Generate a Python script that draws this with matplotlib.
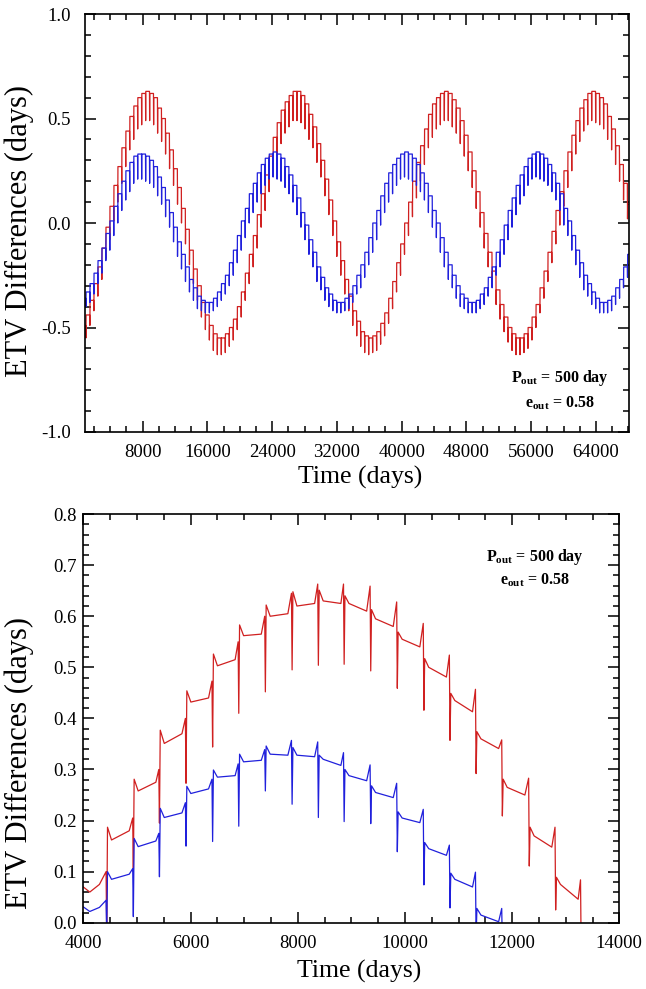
import numpy as np
import matplotlib
matplotlib.use("Agg")
import matplotlib.pyplot as plt
from matplotlib.ticker import MultipleLocator, FormatStrFormatter

plt.rcParams['font.family'] = ['Liberation Serif', 'DejaVu Serif']
plt.rcParams['mathtext.fontset'] = 'custom'
plt.rcParams['mathtext.rm'] = 'Liberation Serif'
plt.rcParams['mathtext.bf'] = 'Liberation Serif:bold'
plt.rcParams['axes.unicode_minus'] = False

RED = '#d02020'
BLUE = '#2020dc'

# ---------------- top panel: one value per outer orbit (every 492 d) ----------------
top_t = np.arange(500, 68000, 492)  # spike epochs

red_level = [-0.49, -0.44, -0.37, -0.29, -0.21, -0.12, -0.02, 0.08, 0.18, 0.27,
             0.36, 0.44, 0.51, 0.56, 0.60, 0.62, 0.63, 0.62, 0.60, 0.55,
             0.50, 0.43, 0.35, 0.26, 0.17, 0.07, -0.03, -0.13, -0.22, -0.30,
             -0.38, -0.44, -0.49, -0.53, -0.55, -0.55, -0.53, -0.50, -0.46, -0.40,
             -0.33, -0.24, -0.15, -0.06, 0.04, 0.14, 0.23, 0.32, 0.41, 0.48,
             0.54, 0.58, 0.61, 0.63, 0.63, 0.61, 0.57, 0.52, 0.46, 0.38,
             0.30, 0.21, 0.11, 0.01, -0.09, -0.18, -0.27, -0.35, -0.42, -0.47,
             -0.52, -0.54, -0.55, -0.54, -0.52, -0.48, -0.43, -0.36, -0.28, -0.19,
             -0.10, 0.00, 0.10, 0.20, 0.29, 0.37, 0.45, 0.52, 0.57, 0.60,
             0.62, 0.63, 0.62, 0.59, 0.55, 0.49, 0.42, 0.34, 0.25, 0.15,
             0.05, -0.05, -0.14, -0.23, -0.32, -0.39, -0.45, -0.50, -0.53, -0.55,
             -0.55, -0.53, -0.50, -0.45, -0.39, -0.31, -0.23, -0.14, -0.04, 0.06,
             0.15, 0.25, 0.34, 0.42, 0.49, 0.55, 0.59, 0.62, 0.63, 0.62,
             0.60, 0.57, 0.51, 0.45, 0.37, 0.28, 0.19, 0.09]
red_dip = [-0.59, -0.55, -0.49, -0.42, -0.35, -0.27, -0.17, -0.08, 0.01, 0.10,
           0.19, 0.27, 0.35, 0.40, 0.45, 0.47, 0.49, 0.49, 0.47, 0.43,
           0.39, 0.33, 0.26, 0.18, 0.09, 0.00, -0.10, -0.20, -0.29, -0.37,
           -0.45, -0.51, -0.56, -0.61, -0.63, -0.63, -0.62, -0.59, -0.56, -0.51,
           -0.45, -0.37, -0.29, -0.21, -0.12, -0.02, 0.06, 0.15, 0.24, 0.32,
           0.38, 0.43, 0.46, 0.49, 0.49, 0.48, 0.45, 0.40, 0.36, 0.29,
           0.22, 0.13, 0.04, -0.06, -0.16, -0.25, -0.34, -0.42, -0.49, -0.54,
           -0.59, -0.62, -0.63, -0.62, -0.61, -0.58, -0.54, -0.48, -0.41, -0.33,
           -0.25, -0.15, -0.06, 0.03, 0.12, 0.20, 0.28, 0.36, 0.41, 0.45,
           0.47, 0.49, 0.49, 0.46, 0.43, 0.38, 0.32, 0.25, 0.17, 0.07,
           -0.02, -0.12, -0.21, -0.30, -0.39, -0.46, -0.52, -0.57, -0.61, -0.63,
           -0.63, -0.62, -0.60, -0.56, -0.50, -0.43, -0.36, -0.28, -0.19, -0.10,
           -0.01, 0.08, 0.17, 0.25, 0.33, 0.39, 0.44, 0.47, 0.49, 0.48,
           0.47, 0.45, 0.40, 0.35, 0.28, 0.20, 0.11, 0.02]

blue_level = [-0.36, -0.33, -0.29, -0.24, -0.18, -0.12, -0.05, 0.01, 0.08, 0.14,
              0.20, 0.25, 0.29, 0.32, 0.33, 0.33, 0.32, 0.30, 0.27, 0.22,
              0.17, 0.11, 0.05, -0.02, -0.09, -0.15, -0.21, -0.27, -0.31, -0.35,
              -0.37, -0.38, -0.38, -0.36, -0.33, -0.29, -0.25, -0.19, -0.13, -0.06,
              0.01, 0.07, 0.14, 0.19, 0.24, 0.28, 0.31, 0.33, 0.34, 0.33,
              0.31, 0.27, 0.23, 0.18, 0.12, 0.05, -0.01, -0.08, -0.14, -0.21,
              -0.26, -0.31, -0.34, -0.37, -0.38, -0.38, -0.36, -0.34, -0.30, -0.25,
              -0.20, -0.14, -0.07, 0.00, 0.06, 0.13, 0.19, 0.24, 0.28, 0.31,
              0.33, 0.34, 0.33, 0.31, 0.28, 0.24, 0.19, 0.13, 0.06, 0.00,
              -0.07, -0.14, -0.20, -0.25, -0.30, -0.34, -0.36, -0.38, -0.38, -0.37,
              -0.34, -0.31, -0.26, -0.21, -0.14, -0.08, -0.01, 0.06, 0.12, 0.18,
              0.23, 0.27, 0.31, 0.33, 0.34, 0.33, 0.31, 0.28, 0.24, 0.19,
              0.14, 0.07, 0.01, -0.06, -0.13, -0.19, -0.25, -0.29, -0.33, -0.36,
              -0.38, -0.38, -0.37, -0.35, -0.31, -0.27, -0.21, -0.15]
blue_dip = [-0.42, -0.40, -0.38, -0.34, -0.29, -0.24, -0.18, -0.13, -0.06, 0.00,
            0.06, 0.11, 0.15, 0.19, 0.21, 0.21, 0.20, 0.19, 0.17, 0.13,
            0.09, 0.03, -0.02, -0.09, -0.16, -0.22, -0.28, -0.33, -0.37, -0.41,
            -0.42, -0.43, -0.43, -0.42, -0.40, -0.37, -0.34, -0.30, -0.25, -0.19,
            -0.13, -0.07, 0.00, 0.05, 0.10, 0.14, 0.18, 0.21, 0.22, 0.21,
            0.20, 0.17, 0.14, 0.10, 0.04, -0.02, -0.08, -0.15, -0.21, -0.28,
            -0.32, -0.37, -0.40, -0.42, -0.43, -0.43, -0.42, -0.41, -0.38, -0.34,
            -0.31, -0.26, -0.20, -0.14, -0.08, -0.01, 0.05, 0.10, 0.14, 0.18,
            0.21, 0.22, 0.21, 0.20, 0.18, 0.15, 0.11, 0.05, -0.02, -0.07,
            -0.14, -0.21, -0.27, -0.31, -0.36, -0.40, -0.41, -0.43, -0.43, -0.43,
            -0.41, -0.39, -0.35, -0.31, -0.25, -0.21, -0.15, -0.08, -0.02, 0.04,
            0.09, 0.13, 0.18, 0.21, 0.22, 0.21, 0.20, 0.18, 0.15, 0.11,
            0.06, -0.01, -0.06, -0.13, -0.20, -0.26, -0.32, -0.35, -0.39, -0.41,
            -0.43, -0.43, -0.43, -0.42, -0.39, -0.36, -0.31, -0.26]

# ---------------- bottom panel: zoom 4000-14000 d, values read per cycle ----------------
spikes = [4436, 4933, 5420, 5916, 6412, 6900, 7396, 7895, 8385, 8866,
          9362, 9858, 10354, 10841, 11328, 11818, 12320, 12812, 13288]
start_t = [4000, 4120, 4300]

red_start = [0.070, 0.060, 0.075]
red_pre = [0.100, 0.205, 0.300, 0.400, 0.473, 0.550, 0.600, 0.645, 0.663, 0.663,
           0.659, 0.628, 0.586, 0.524, 0.457, 0.358, 0.283, 0.187, 0.084]
red_dipb = [-0.02, 0.100, 0.195, 0.273, 0.344, 0.410, 0.452, 0.495, 0.504, 0.506,
            0.493, 0.459, 0.416, 0.357, 0.292, 0.209, 0.111, 0.025, -0.05]
red_top = [0.187, 0.281, 0.377, 0.454, 0.526, 0.583, 0.622, 0.648, 0.651, 0.640,
           0.613, 0.569, 0.517, 0.449, 0.374, 0.281, 0.187, 0.089]
red_early = [0.162, 0.258, 0.351, 0.432, 0.503, 0.562, 0.600, 0.620, 0.630, 0.625,
             0.595, 0.555, 0.500, 0.435, 0.360, 0.265, 0.170, 0.075]
red_late = [0.180, 0.275, 0.370, 0.440, 0.515, 0.565, 0.605, 0.625, 0.625, 0.610,
            0.580, 0.540, 0.481, 0.413, 0.341, 0.250, 0.148, 0.046]

blue_start = [0.031, 0.022, 0.030]
blue_pre = [0.044, 0.106, 0.175, 0.235, 0.281, 0.311, 0.339, 0.357, 0.354, 0.333,
            0.309, 0.273, 0.222, 0.152, 0.099, 0.028]
blue_dipb = [-0.02, 0.012, 0.090, 0.150, 0.159, 0.189, 0.258, 0.232, 0.206, 0.198,
             0.194, 0.139, 0.074, 0.029, -0.03, -0.05]
blue_top = [0.100, 0.165, 0.224, 0.267, 0.299, 0.330, 0.346, 0.343, 0.328, 0.300,
            0.268, 0.217, 0.157, 0.097, 0.028]
blue_early = [0.085, 0.149, 0.206, 0.253, 0.285, 0.315, 0.330, 0.328, 0.320, 0.288,
              0.255, 0.205, 0.145, 0.085, 0.015]
blue_late = [0.095, 0.160, 0.215, 0.262, 0.288, 0.318, 0.328, 0.325, 0.308, 0.278,
             0.245, 0.196, 0.132, 0.070, 0.002]


def stairs(t, level, dip):
    # step + periastron spike for each outer orbit
    xs, ys = [], []
    for k in range(len(t)):
        xs += [t[k], t[k] + 20, t[k] + 472]
        ys += [dip[k], level[k], level[k]]
    return xs, ys


def cycles(t0, v0, spk, pre, dip, top, early, late):
    xs, ys = list(t0), list(v0)
    for k, s in enumerate(spk[:len(pre)]):
        xs += [s - 12, s]
        ys += [pre[k], dip[k]]
        if k < len(top):
            xs += [s + 15, s + 90, s + 420]
            ys += [top[k], early[k], late[k]]
    return xs, ys


def style_axes(ax):
    for sp in ax.spines.values():
        sp.set_linewidth(1.2)
    ax.tick_params(which='both', direction='in', top=True, right=True,
                   width=1.1, labelsize=13.5)
    ax.tick_params(which='major', length=8)
    ax.tick_params(which='minor', length=4.5)


def note(ax, x, y1, y2):
    ax.text(x, y1, r'$\mathbf{P}_{\mathbf{out}}$ = 500 day', transform=ax.transAxes,
            ha='center', va='center', fontsize=11.5, fontweight='bold')
    ax.text(x, y2, r'$\mathbf{e}_{\mathbf{out}}$ = 0.58', transform=ax.transAxes,
            ha='center', va='center', fontsize=11.5, fontweight='bold')


fig = plt.figure(figsize=(6.46, 9.89), dpi=100)

# top panel
ax1 = fig.add_axes([0.1316, 0.5632, 0.842, 0.4226])
x, y = stairs(top_t, red_level, red_dip)
ax1.plot(x, y, color=RED, lw=0.9)
x, y = stairs(top_t, blue_level, blue_dip)
ax1.plot(x, y, color=BLUE, lw=0.9)
ax1.set_xlim(880, 68080)
ax1.set_ylim(-1.0, 1.0)
ax1.xaxis.set_major_locator(MultipleLocator(8000))
ax1.xaxis.set_minor_locator(MultipleLocator(2000))
ax1.yaxis.set_major_locator(MultipleLocator(0.5))
ax1.yaxis.set_minor_locator(MultipleLocator(0.1))
ax1.yaxis.set_major_formatter(FormatStrFormatter('%.1f'))
style_axes(ax1)
ax1.tick_params(axis='x', pad=9)
ax1.tick_params(axis='y', pad=10)
ax1.set_xlabel('Time (days)', fontsize=18.5)
ax1.set_ylabel('ETV Differences (days)', fontsize=22)
ax1.xaxis.set_label_coords(0.506, -0.082)
ax1.yaxis.set_label_coords(-0.094, 0.48)
note(ax1, 0.873, 0.129, 0.069)

# bottom panel
ax2 = fig.add_axes([0.129, 0.067, 0.8297, 0.4132])
x, y = cycles(start_t, red_start, spikes, red_pre, red_dipb, red_top, red_early, red_late)
ax2.plot(x, y, color=RED, lw=0.9)
x, y = cycles(start_t, blue_start, spikes, blue_pre, blue_dipb, blue_top, blue_early, blue_late)
ax2.plot(x, y, color=BLUE, lw=0.9)
ax2.set_xlim(4000, 14000)
ax2.set_ylim(0.0, 0.8)
ax2.xaxis.set_major_locator(MultipleLocator(2000))
ax2.xaxis.set_minor_locator(MultipleLocator(500))
ax2.yaxis.set_major_locator(MultipleLocator(0.1))
ax2.yaxis.set_minor_locator(MultipleLocator(0.02))
ax2.yaxis.set_major_formatter(FormatStrFormatter('%.1f'))
style_axes(ax2)
ax2.tick_params(axis='x', pad=9)
ax2.tick_params(axis='y', pad=5)
ax2.set_xlabel('Time (days)', fontsize=18.5)
ax2.set_ylabel('ETV Differences (days)', fontsize=22)
ax2.xaxis.set_label_coords(0.514, -0.092)
ax2.yaxis.set_label_coords(-0.092, 0.39)
note(ax2, 0.843, 0.895, 0.8385)

fig.savefig('out.png', dpi=100)
